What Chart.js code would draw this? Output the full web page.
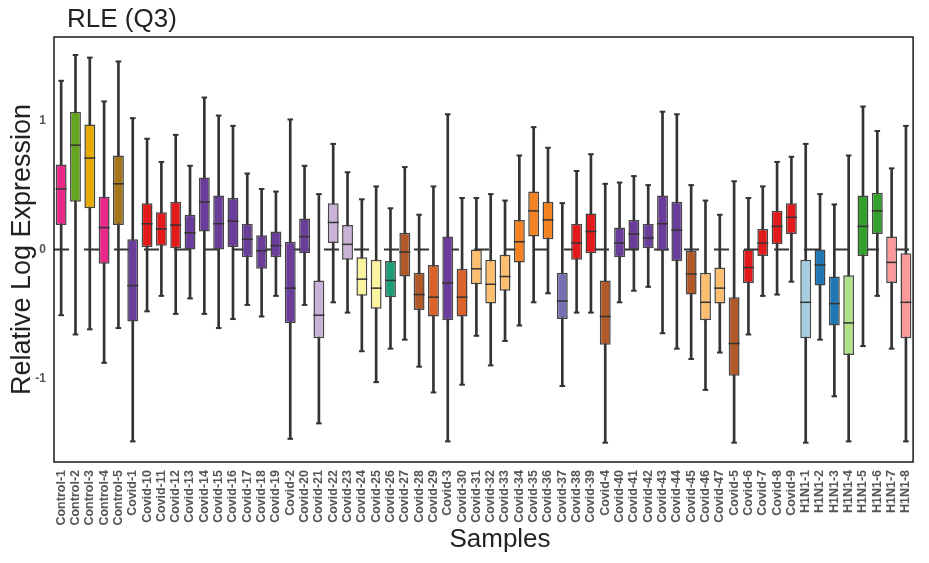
<!DOCTYPE html>
<html>
<head>
<meta charset="utf-8">
<script src="https://cdn.jsdelivr.net/npm/chart.js@4"></script>
<style>
  body { margin: 0; background: #fff; }
  #wrap { position: relative; width: 929px; height: 563px; }
  .lbl { position: absolute; font-family: "Liberation Sans", Arial, sans-serif; font-size: 26px; line-height: 26px; color: #222; }
  #title { left: 67px; top: 5px; }
  #xtitle { left: 400px; top: 525px; width: 200px; text-align: center; }
</style>
</head>
<body>
<div id="wrap">
  <canvas id="rleChart"></canvas>
  <div id="title" class="lbl">RLE (Q3)</div>
  <div id="xtitle" class="lbl">Samples</div>
</div>
<script>
const samples = [
  "Control-1", "Control-2", "Control-3", "Control-4", "Control-5",
  "Covid-1", "Covid-10", "Covid-11", "Covid-12", "Covid-13", "Covid-14", "Covid-15", "Covid-16", "Covid-17", "Covid-18", "Covid-19",
  "Covid-2", "Covid-20", "Covid-21", "Covid-22", "Covid-23", "Covid-24", "Covid-25", "Covid-26", "Covid-27", "Covid-28", "Covid-29",
  "Covid-3", "Covid-30", "Covid-31", "Covid-32", "Covid-33", "Covid-34", "Covid-35", "Covid-36", "Covid-37", "Covid-38", "Covid-39",
  "Covid-4", "Covid-40", "Covid-41", "Covid-42", "Covid-43", "Covid-44", "Covid-45", "Covid-46", "Covid-47",
  "Covid-5", "Covid-6", "Covid-7", "Covid-8", "Covid-9",
  "H1N1-1", "H1N1-2", "H1N1-3", "H1N1-4", "H1N1-5", "H1N1-6", "H1N1-7", "H1N1-8"
];

// box stats, one value per sample
const whiskerHigh = [
  1.31, 1.51, 1.49, 1.15, 1.46,
  1.02, 0.86, 0.68, 0.89, 0.65, 1.18, 1.04, 0.96, 0.59, 0.47, 0.45,
  1.01, 0.65, 0.43, 0.82, 0.60, 0.39, 0.49, 0.32, 0.64, 0.27, 0.49,
  1.05, 0.40, 0.40, 0.43, 0.38, 0.73, 0.95, 0.79, 0.36, 0.61, 0.74,
  0.51, 0.52, 0.57, 0.50, 1.07, 1.05, 0.50, 0.38, 0.27,
  0.53, 0.40, 0.49, 0.68, 0.72,
  0.82, 0.43, 0.35, 0.73, 1.11, 0.92, 0.63, 0.96
];
const q3 = [
  0.66, 1.07, 0.97, 0.41, 0.73,
  0.08, 0.36, 0.29, 0.37, 0.27, 0.56, 0.42, 0.40, 0.20, 0.11, 0.14,
  0.06, 0.24, -0.24, 0.36, 0.19, -0.06, -0.08, -0.09, 0.13, -0.18, -0.12,
  0.10, -0.15, 0.00, -0.08, -0.04, 0.23, 0.45, 0.37, -0.18, 0.20, 0.28,
  -0.24, 0.17, 0.23, 0.20, 0.42, 0.37, -0.01, -0.18, -0.14,
  -0.37, 0.00, 0.16, 0.30, 0.36,
  -0.08, 0.00, -0.21, -0.20, 0.42, 0.44, 0.10, -0.03
];
const medians = [
  0.47, 0.81, 0.71, 0.17, 0.51,
  -0.28, 0.20, 0.16, 0.19, 0.13, 0.37, 0.20, 0.22, 0.08, -0.01, 0.03,
  -0.30, 0.10, -0.51, 0.21, 0.04, -0.23, -0.30, -0.24, -0.02, -0.35, -0.37,
  -0.26, -0.37, -0.15, -0.27, -0.21, 0.06, 0.30, 0.23, -0.40, 0.05, 0.14,
  -0.52, 0.05, 0.12, 0.09, 0.20, 0.15, -0.19, -0.41, -0.30,
  -0.73, -0.14, 0.05, 0.18, 0.25,
  -0.41, -0.12, -0.42, -0.57, 0.18, 0.30, -0.10, -0.41
];
const q1 = [
  0.19, 0.37, 0.32, -0.11, 0.19,
  -0.56, 0.02, 0.03, 0.01, 0.00, 0.14, 0.00, 0.02, -0.06, -0.15, -0.06,
  -0.57, -0.03, -0.69, 0.05, -0.08, -0.36, -0.46, -0.37, -0.21, -0.47, -0.52,
  -0.55, -0.52, -0.27, -0.42, -0.32, -0.10, 0.10, 0.08, -0.54, -0.08, -0.03,
  -0.74, -0.06, 0.00, 0.01, -0.01, -0.09, -0.35, -0.55, -0.42,
  -0.98, -0.26, -0.05, 0.04, 0.12,
  -0.69, -0.28, -0.59, -0.82, -0.05, 0.12, -0.26, -0.69
];
const whiskerLow = [
  -0.51, -0.66, -0.62, -0.88, -0.61,
  -1.49, -0.48, -0.36, -0.50, -0.38, -0.50, -0.61, -0.54, -0.43, -0.52, -0.36,
  -1.47, -0.43, -1.35, -0.41, -0.49, -0.79, -1.03, -0.77, -0.70, -0.91, -1.11,
  -1.49, -1.05, -0.67, -0.90, -0.71, -0.59, -0.41, -0.34, -1.06, -0.49, -0.49,
  -1.50, -0.41, -0.32, -0.29, -0.65, -0.77, -0.85, -1.09, -0.80,
  -1.50, -0.66, -0.36, -0.35, -0.25,
  -1.50, -0.70, -1.14, -1.49, -0.75, -0.36, -0.77, -1.49
];
const yTicks = [-1, 0, 1];

const boxColors = [
  "#E7298A", "#66A61E", "#E6AB02", "#E7298A", "#A6761D",
  "#6A3D9A", "#E31A1C", "#E31A1C", "#E31A1C", "#6A3D9A", "#6A3D9A", "#6A3D9A", "#6A3D9A", "#6A3D9A", "#6A3D9A", "#6A3D9A",
  "#6A3D9A", "#6A3D9A", "#CAB2D6", "#CAB2D6", "#CAB2D6", "#F9F49F", "#F9F49F", "#1B9E77", "#B15928", "#B15928", "#DA6127",
  "#6A3D9A", "#DA6127", "#FDBF6F", "#FDBF6F", "#FDBF6F", "#F58220", "#F58220", "#F58220", "#7570B3", "#E31A1C", "#E31A1C",
  "#B15928", "#6A3D9A", "#6A3D9A", "#6A3D9A", "#6A3D9A", "#6A3D9A", "#B15928", "#FDBF6F", "#FDBF6F",
  "#B15928", "#E31A1C", "#E31A1C", "#E31A1C", "#E31A1C",
  "#A6CEE3", "#1F78B4", "#1F78B4", "#B2DF8A", "#33A02C", "#33A02C", "#FB9A99", "#FB9A99"
];

Chart.defaults.font.family = '"Liberation Sans", Arial, sans-serif';

// dashed line at 0 behind the boxes + frame around the plot
const framePlugin = {
  id: "frame",
  beforeDatasetsDraw(chart) {
    const { ctx, chartArea, scales } = chart;
    const y = scales.y.getPixelForValue(0);
    ctx.save();
    ctx.strokeStyle = "#333";
    ctx.lineWidth = 2;
    ctx.setLineDash([15, 15]);
    ctx.beginPath();
    ctx.moveTo(chartArea.left, y);
    ctx.lineTo(chartArea.right, y);
    ctx.stroke();
    ctx.restore();
  },
  afterDatasetsDraw(chart) {
    const { ctx, chartArea } = chart;
    ctx.save();
    ctx.strokeStyle = "#1a1a1a";
    ctx.lineWidth = 1.5;
    ctx.strokeRect(chartArea.left, chartArea.top, chartArea.right - chartArea.left, chartArea.bottom - chartArea.top);
    ctx.restore();
  },
};

const ctx = document.getElementById("rleChart").getContext("2d");
new Chart(ctx, {
  type: "bar",
  data: {
    labels: samples,
    datasets: [
      {
        type: "line",
        label: "Median",
        data: medians,
        showLine: false,
        pointStyle: "line",
        pointRadius: 5.5,
        pointBorderWidth: 1.5,
        pointBorderColor: "#333",
        order: 1,
      },
      {
        type: "line",
        label: "Upper whisker",
        data: whiskerHigh,
        showLine: false,
        pointStyle: "line",
        pointRadius: 2.8,
        pointBorderWidth: 2,
        pointBorderColor: "#333",
        order: 1,
      },
      {
        type: "line",
        label: "Lower whisker",
        data: whiskerLow,
        showLine: false,
        pointStyle: "line",
        pointRadius: 2.8,
        pointBorderWidth: 2,
        pointBorderColor: "#333",
        order: 1,
      },
      {
        label: "IQR",
        data: samples.map((s, i) => [q1[i], q3[i]]),
        backgroundColor: boxColors,
        borderColor: "#444",
        borderWidth: 1.5,
        borderSkipped: false,
        grouped: false,
        categoryPercentage: 1,
        barPercentage: 0.76,
        order: 2,
      },
      {
        label: "Range",
        data: samples.map((s, i) => [whiskerLow[i], whiskerHigh[i]]),
        backgroundColor: "#333",
        barThickness: 2,
        grouped: false,
        order: 3,
      },
    ],
  },
  options: {
    responsive: true,
    maintainAspectRatio: false,
    animation: false,
    layout: { padding: { top: 37, right: 7, bottom: 38, left: 0 } },
    plugins: {
      legend: { display: false },
      tooltip: { enabled: false },
    },
    scales: {
      x: {
        grid: { display: false, drawTicks: false },
        border: { display: false },
        ticks: {
          autoSkip: false,
          minRotation: 90,
          maxRotation: 90,
          padding: 8,
          color: "#555",
          font: { size: 12.5, weight: "bold" },
        },
        afterFit(scale) {
          scale.height = 63;
        },
      },
      y: {
        min: -1.65,
        max: 1.65,
        grid: { display: false, drawTicks: false },
        border: { display: false },
        afterBuildTicks(scale) {
          scale.ticks = yTicks.map((v) => ({ value: v }));
        },
        ticks: {
          padding: 8,
          color: "#555",
          font: { size: 12, weight: "bold" },
        },
        title: {
          display: true,
          text: "Relative Log Expression",
          color: "#222",
          font: { size: 27 },
          padding: { top: 6, bottom: 0 },
        },
        afterFit(scale) {
          scale.width = 54;
        },
      },
    },
  },
  plugins: [framePlugin],
});
</script>
</body>
</html>
